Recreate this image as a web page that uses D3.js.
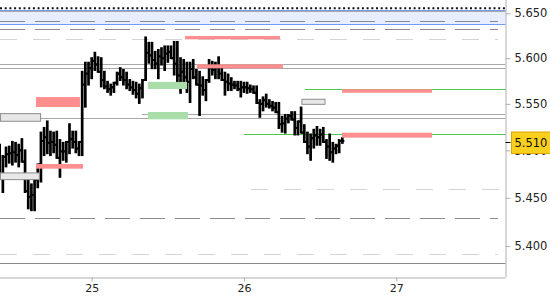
<!DOCTYPE html>
<html>
<head>
<meta charset="utf-8">
<script src="https://cdn.jsdelivr.net/npm/d3@7"></script>
<style>
  body { margin: 0; background: #fff; }
  svg { display: block; font-family: "DejaVu Sans", sans-serif; }
</style>
</head>
<body>
<div id="chart"></div>
<script>
// 30 minute bars, 24th 09:30 -> 26th 15:30
const barTimes = d3.timeMinute.every(30).range(new Date(2015, 2, 24, 9, 30), new Date(2015, 2, 26, 16, 0));

const open = [5.490,5.475,5.493,5.496,5.497,5.498,5.495,5.500,5.488,5.457,5.451,5.453,5.469,5.485,5.510,5.514,5.508,5.509,5.506,5.492,
  5.499,5.499,5.509,5.512,5.509,5.502,5.509,5.571,5.583,5.589,5.597,5.593,5.585,5.576,5.569,5.566,5.568,5.573,5.583,5.579,
  5.576,5.571,5.568,5.565,5.561,5.567,5.576,5.606,5.603,5.598,5.594,5.602,5.600,5.605,5.607,5.600,5.594,5.581,5.585,5.579,
  5.574,5.588,5.579,5.571,5.570,5.565,5.576,5.589,5.587,5.590,5.583,5.576,5.574,5.572,5.571,5.570,5.566,5.568,5.568,5.567,
  5.566,5.562,5.551,5.550,5.554,5.550,5.548,5.546,5.541,5.528,5.529,5.534,5.537,5.533,5.524,5.531,5.519,5.509,5.504,5.513,
  5.516,5.514,5.517,5.509,5.504,5.498,5.502,5.505,5.510];
const high = [5.506,5.494,5.503,5.504,5.509,5.508,5.506,5.512,5.500,5.474,5.464,5.469,5.485,5.519,5.524,5.531,5.520,5.519,5.520,5.511,
  5.508,5.509,5.528,5.520,5.520,5.509,5.585,5.595,5.595,5.600,5.606,5.601,5.600,5.585,5.574,5.571,5.573,5.584,5.589,5.587,
  5.584,5.576,5.574,5.573,5.571,5.576,5.623,5.617,5.617,5.607,5.609,5.611,5.613,5.613,5.613,5.618,5.618,5.600,5.598,5.595,
  5.595,5.598,5.587,5.585,5.579,5.576,5.598,5.596,5.595,5.601,5.589,5.584,5.582,5.578,5.574,5.574,5.574,5.573,5.573,5.570,
  5.569,5.569,5.554,5.557,5.560,5.554,5.552,5.551,5.551,5.536,5.538,5.538,5.541,5.541,5.531,5.546,5.527,5.519,5.517,5.522,
  5.525,5.522,5.524,5.511,5.517,5.508,5.506,5.511,5.513];
const low = [5.474,5.456,5.483,5.487,5.485,5.488,5.483,5.488,5.456,5.439,5.437,5.437,5.461,5.467,5.495,5.497,5.495,5.498,5.492,5.472,
  5.490,5.488,5.497,5.503,5.498,5.495,5.495,5.547,5.571,5.578,5.587,5.585,5.569,5.567,5.563,5.560,5.563,5.571,5.576,5.571,
  5.567,5.565,5.561,5.557,5.551,5.557,5.576,5.595,5.589,5.589,5.578,5.593,5.587,5.596,5.600,5.582,5.569,5.562,5.571,5.563,
  5.552,5.578,5.571,5.538,5.560,5.554,5.574,5.582,5.578,5.578,5.576,5.560,5.565,5.565,5.567,5.565,5.558,5.563,5.562,5.563,
  5.562,5.551,5.536,5.543,5.547,5.546,5.543,5.541,5.524,5.520,5.519,5.530,5.533,5.517,5.517,5.519,5.509,5.497,5.490,5.503,
  5.506,5.506,5.509,5.492,5.490,5.488,5.497,5.498,5.508];
const close = [5.475,5.493,5.496,5.497,5.498,5.495,5.500,5.488,5.457,5.451,5.453,5.469,5.485,5.510,5.514,5.508,5.509,5.506,5.492,5.499,
  5.499,5.509,5.512,5.509,5.502,5.509,5.571,5.583,5.589,5.597,5.593,5.585,5.576,5.569,5.566,5.568,5.573,5.583,5.579,5.576,
  5.571,5.568,5.565,5.561,5.567,5.576,5.606,5.603,5.598,5.594,5.602,5.600,5.605,5.607,5.600,5.594,5.581,5.585,5.579,5.574,
  5.588,5.579,5.571,5.570,5.565,5.576,5.589,5.587,5.590,5.583,5.576,5.574,5.572,5.571,5.570,5.566,5.568,5.568,5.567,5.566,
  5.562,5.551,5.550,5.554,5.550,5.548,5.546,5.541,5.528,5.529,5.534,5.537,5.533,5.524,5.531,5.519,5.509,5.504,5.513,5.516,
  5.514,5.517,5.509,5.504,5.498,5.502,5.505,5.510,5.510];

const yTicks = [5.400, 5.450, 5.500, 5.550, 5.600, 5.650];
const lastPrice = 5.510;

const t = (d, h, m = 0) => new Date(2015, 2, d, h, m);

// price levels
const bandRange = [5.6377, 5.6535];
const dottedLevel = 5.6556;
const greyLevels = [5.6530, 5.5932, 5.5888, 5.5344];
const greyLevelsFrom = [[5.5388, t(25, 7, 55)]];
const darkGreyLevel = 5.3823;
const darkDashed = [5.6410, 5.6328, 5.4286];
const lightDashed = [5.6209, 5.3915];
const lightDashedFrom = [[5.4589, t(26, 1, 6)]];
const greenLevels = [[5.5172, t(26, 0, 0)], [5.5659, t(26, 9, 37)]];

// zones: [start, end, low, high]
const redZones = [
  [t(24, 15, 13), t(24, 22, 9), 5.5466, 5.5574],
  [t(24, 15, 13), t(24, 22, 38), 5.4806, 5.4855],
  [t(25, 14, 43), t(26, 5, 40), 5.6209, 5.6246],
  [t(25, 16, 35), t(26, 6, 8), 5.5888, 5.5932],
  [t(26, 15, 27), t(27, 5, 38), 5.5621, 5.5659],
  [t(26, 15, 27), t(27, 5, 38), 5.5136, 5.5189]
];
const greenZones = [
  [t(25, 8, 52), t(25, 15, 2), 5.5662, 5.5739],
  [t(25, 8, 52), t(25, 15, 10), 5.5333, 5.5412]
];
const greyBoxes = [
  [t(24, 9, 37), t(24, 15, 57), 5.5312, 5.5394],
  [t(24, 9, 37), t(24, 15, 45), 5.4690, 5.4761],
  [t(26, 9, 8), t(26, 12, 46), 5.5495, 5.5550]
];

const width = 550, height = 300;
const plotRight = 505.5, plotBottom = 277.5;

const svg = d3.select("#chart").append("svg")
  .attr("width", width)
  .attr("height", height);

const x = d3.scaleTime()
  .domain([t(24, 9, 33), t(27, 17, 8)])
  .range([0, 505]);

// price axis is drawn inverted-linear (1/price)
const y = d3.scalePow().exponent(-1)
  .domain([5.400, 5.650])
  .range([246, 13.3]);

const x0 = x.range()[0];

// band
svg.append("rect")
  .attr("x", x0).attr("width", plotRight - x0)
  .attr("y", y(bandRange[1])).attr("height", y(bandRange[0]) - y(bandRange[1]))
  .attr("fill", "#e6eeff");
[bandRange[0], bandRange[1]].forEach(p => {
  svg.append("line")
    .attr("x1", x0).attr("x2", plotRight)
    .attr("y1", Math.round(y(p)) + 0.5).attr("y2", Math.round(y(p)) + 0.5)
    .attr("stroke", "#6e9cf5").attr("stroke-width", 1);
});

function hline(p, from, stroke, dash, to) {
  const yy = Math.round(y(p)) + 0.5;
  svg.append("line")
    .attr("x1", from ? x(from) : x0)
    .attr("x2", to || plotRight)
    .attr("y1", yy).attr("y2", yy)
    .attr("stroke", stroke)
    .attr("stroke-width", 1)
    .attr("stroke-dasharray", dash || null);
}

greyLevels.forEach(p => hline(p, null, "#a8a8a8"));
greyLevelsFrom.forEach(d => hline(d[0], d[1], "#a8a8a8"));
hline(darkGreyLevel, null, "#888");
darkDashed.forEach(p => hline(p, null, "#8a8a8a", "25,10", 498));
lightDashed.forEach(p => hline(p, null, "#d4d4d4", "17,16", 498));
lightDashedFrom.forEach(d => hline(d[0], d[1], "#d4d4d4", "17,16"));

// dotted line at the top
svg.append("line")
  .attr("x1", x0).attr("x2", plotRight)
  .attr("y1", y(dottedLevel)).attr("y2", y(dottedLevel))
  .attr("stroke", "#111").attr("stroke-width", 2)
  .attr("stroke-dasharray", "2,2.7");

greenLevels.forEach(d => hline(d[0], d[1], "#4cc94c"));

// OHLC bars
const bars = svg.append("g").attr("stroke", "#000");
barTimes.forEach((d, i) => {
  const bx = x(d);
  bars.append("line")
    .attr("x1", bx).attr("x2", bx)
    .attr("y1", y(high[i]) - 1).attr("y2", y(low[i]) + 1)
    .attr("stroke-width", 2.7);
  bars.append("line")
    .attr("x1", bx - 2).attr("x2", bx)
    .attr("y1", y(open[i])).attr("y2", y(open[i]))
    .attr("stroke-width", 2);
  bars.append("line")
    .attr("x1", bx).attr("x2", bx + 2)
    .attr("y1", y(close[i])).attr("y2", y(close[i]))
    .attr("stroke-width", 2);
});

// zones
function zone(d, fill, stroke) {
  svg.append("rect")
    .attr("x", x(d[0])).attr("width", x(d[1]) - x(d[0]))
    .attr("y", y(d[3])).attr("height", y(d[2]) - y(d[3]))
    .attr("fill", fill)
    .attr("stroke", stroke || "none");
}
redZones.forEach(d => zone(d, "#ff8f8f"));
greenZones.forEach(d => zone(d, "#a9dda9"));
greyBoxes.forEach(d => zone(d, "#e8e8e8", "#8c8c8c"));

// axes
const xAxis = svg.append("g")
  .attr("transform", `translate(0,${plotBottom})`)
  .call(d3.axisBottom(x).ticks(d3.timeDay).tickFormat(d3.timeFormat("%-d")).tickSize(4).tickPadding(3).tickSizeOuter(0));
xAxis.select(".domain").attr("stroke", "#b0b0b0").attr("d", `M0,0.5H${plotRight}`);
xAxis.selectAll(".tick line").attr("stroke", "#b0b0b0");
xAxis.selectAll("text").attr("font-size", 11).attr("fill", "#222").attr("font-family", "DejaVu Sans");

const yAxis = svg.append("g")
  .attr("transform", `translate(${plotRight},0)`)
  .call(d3.axisRight(y).tickValues(yTicks).tickFormat(d3.format(".3f")).tickSize(5).tickPadding(4));
yAxis.select(".domain").attr("stroke", "#b0b0b0").attr("d", `M0.5,0V${plotBottom}`);
yAxis.selectAll(".tick line").attr("stroke", "#b0b0b0");
yAxis.selectAll("text").attr("font-size", 11.5).attr("fill", "#222").attr("font-family", "DejaVu Sans");

// last price label (covers most of the 5.500 tick label, as in the original)
const ly = y(lastPrice) + 1.5;
svg.append("line")
  .attr("x1", plotRight).attr("x2", plotRight + 5)
  .attr("y1", ly).attr("y2", ly)
  .attr("stroke", "#000");
svg.append("rect")
  .attr("x", 511.5).attr("y", ly - 10.5)
  .attr("width", 40).attr("height", 21.5)
  .attr("fill", "#fbcf1e").attr("stroke", "#d8a800");
svg.append("text")
  .attr("x", 514.5).attr("y", ly)
  .attr("dy", "0.36em")
  .attr("font-size", 11.5)
  .attr("fill", "#111")
  .text(d3.format(".3f")(lastPrice));
</script>
</body>
</html>
